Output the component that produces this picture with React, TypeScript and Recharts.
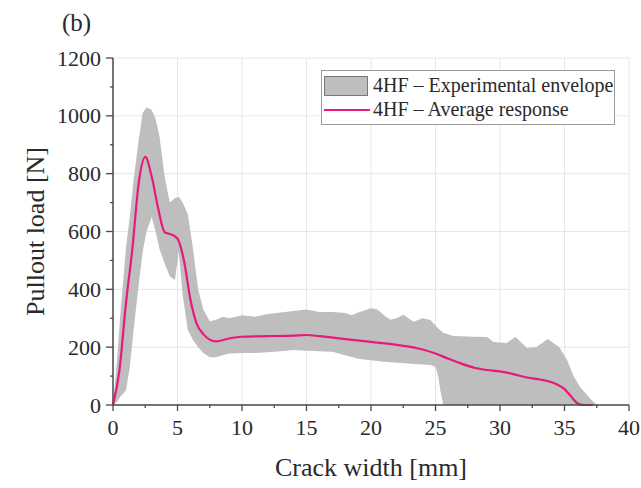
import { ComposedChart, Area, Line, XAxis, YAxis, CartesianGrid, Legend } from 'recharts';

// envelope of the 4HF tests (crack width in mm, load in N)
const envX = [0, 0.3, 0.6, 1.0, 1.3, 1.6, 2.0, 2.3, 2.6, 3.0, 3.3, 3.6, 4.0, 4.4, 4.8, 5.1, 5.4, 5.8, 6.2, 6.6, 7.0, 7.5, 8, 8.5, 9, 10, 11, 12, 13, 14, 15, 16, 17, 18, 18.5, 19, 20, 20.5, 21, 21.5, 22, 22.5, 23.3, 24, 24.6, 25, 25.2, 25.4, 25.6, 26.4, 27, 28, 29, 29.5, 30.5, 31.2, 32.1, 32.8, 33.7, 34.6, 35.2, 35.7, 36.2, 37.0, 37.5];
const envHigh = [0, 150, 330, 540, 650, 780, 920, 1010, 1030, 1020, 990, 930, 790, 700, 715, 720, 700, 660, 540, 400, 330, 290, 295, 305, 300, 310, 305, 315, 320, 325, 330, 322, 322, 318, 310, 320, 335, 330, 310, 295, 300, 312, 288, 300, 294, 275, 265, 258, 250, 239, 238, 236, 235, 218, 214, 235, 197, 200, 228, 200, 156, 100, 62, 22, 0];
const envLow = [0, 10, 30, 50, 130, 260, 420, 530, 600, 650, 600, 540, 490, 445, 432, 530, 380, 260, 225, 200, 180, 165, 165, 172, 178, 180, 180, 182, 186, 190, 188, 186, 184, 172, 166, 160, 155, 152, 150, 148, 146, 145, 142, 140, 138, 132, 100, 45, 0, 0, 0, 0, 0, 0, 0, 0, 0, 0, 0, 0, 0, 0, 0, 0, 0];

// average response
const avgX = [0, 0.5, 1.0, 1.5, 2.0, 2.5, 3.0, 3.5, 4.0, 4.5, 5.0, 5.5, 6.0, 6.5, 7.0, 7.5, 8.0, 9, 10, 12, 14, 15, 16, 18, 20, 22, 24, 25, 26, 27, 28, 29, 30, 31, 32, 33, 34, 35, 35.5, 36, 36.5, 37.2];
const avgLoad = [0, 120, 350, 540, 770, 858, 790, 680, 598, 590, 575, 500, 365, 280, 245, 226, 220, 230, 236, 238, 240, 242, 238, 228, 218, 208, 192, 178, 160, 143, 129, 121, 116, 107, 96, 89, 79, 55, 30, 6, 0, 0];

const xTicks = [0, 2.5, 5, 7.5, 10, 12.5, 15, 17.5, 20, 22.5, 25, 27.5, 30, 32.5, 35, 37.5, 40];
const yTicks = [0, 100, 200, 300, 400, 500, 600, 700, 800, 900, 1000, 1100, 1200];
const xGrid = [0, 5, 10, 15, 20, 25, 30, 35, 40];
const yGrid = [0, 200, 400, 600, 800, 1000, 1200];

const envData = envX.map((x, i) => ({ x, range: [envLow[i], envHigh[i]] }));
const avgData = avgX.map((x, i) => ({ x, load: avgLoad[i] }));

const serif = "'Liberation Serif', 'DejaVu Serif', serif";
const axisColor = '#4a4a4a';
const textColor = '#2a2a2a';
const envColor = '#bebebe';
const avgColor = '#e8197b';

const XTick = (props: any) => {
  const { x, y, payload } = props;
  const major = payload.value % 5 === 0;
  return (
    <g>
      <line x1={x} x2={x} y1={y} y2={y + (major ? 6 : 3)} stroke={axisColor} strokeWidth={1.3} />
      {major && (
        <text x={x} y={y + 30} textAnchor="middle" fontSize={22} fontFamily={serif} fill={textColor}>
          {payload.value}
        </text>
      )}
    </g>
  );
};

const YTick = (props: any) => {
  const { x, y, payload } = props;
  const major = payload.value % 200 === 0;
  return (
    <g>
      <line x1={x - (major ? 7 : 3)} x2={x} y1={y} y2={y} stroke={axisColor} strokeWidth={1.3} />
      {major && (
        <text x={x - 12} y={y + 7.5} textAnchor="end" fontSize={22} fontFamily={serif} fill={textColor}>
          {payload.value}
        </text>
      )}
    </g>
  );
};

const XTitle = (props: any) => {
  const { viewBox } = props;
  return (
    <text x={viewBox.x + viewBox.width / 2} y={476} textAnchor="middle" fontSize={26} fontFamily={serif} fill={textColor}>
      Crack width [mm]
    </text>
  );
};

const YTitle = (props: any) => {
  const { viewBox } = props;
  const cx = 35;
  const cy = viewBox.y + viewBox.height / 2;
  return (
    <text x={cx} y={cy} transform={`rotate(-90, ${cx}, ${cy})`} textAnchor="middle" dominantBaseline="central" fontSize={26} fontFamily={serif} fill={textColor}>
      Pullout load [N]
    </text>
  );
};

const LegendBox = () => (
  <div style={{ width: 294, height: 55, border: '1px solid #9a9a9a', background: '#fff', fontFamily: serif, fontSize: 20, color: textColor, boxSizing: 'border-box', padding: '3px 0 0 2px', whiteSpace: 'nowrap' }}>
    <div style={{ display: 'flex', alignItems: 'center', height: 23 }}>
      <span style={{ display: 'inline-block', width: 44, height: 20, background: envColor, border: '1px solid #777', boxSizing: 'border-box' }} />
      <span style={{ marginLeft: 5, lineHeight: '23px' }}>4HF – Experimental envelope</span>
    </div>
    <div style={{ display: 'flex', alignItems: 'center', height: 25 }}>
      <span style={{ display: 'inline-block', width: 46, height: 2, background: avgColor }} />
      <span style={{ marginLeft: 3, lineHeight: '25px' }}>4HF – Average response</span>
    </div>
  </div>
);

export default function App() {
  return (
    <div style={{ position: 'absolute', left: 0, top: 0, width: 641, height: 488, background: '#fff' }}>
      <div style={{ position: 'absolute', left: 62, top: 9, fontFamily: serif, fontSize: 25, color: textColor, zIndex: 2 }}>(b)</div>
      <ComposedChart width={641} height={488} margin={{ top: 58, right: 12, bottom: 0, left: 0 }}>
        <CartesianGrid stroke="#e6e6e6" strokeWidth={1} verticalValues={xGrid} horizontalValues={yGrid} />
        <XAxis
          dataKey="x"
          type="number"
          domain={[0, 40]}
          ticks={xTicks}
          interval={0}
          height={83}
          allowDuplicatedCategory={false}
          axisLine={{ stroke: axisColor, strokeWidth: 1.5 }}
          tickLine={false}
          tickSize={0}
          tickMargin={0}
          tick={<XTick />}
          label={XTitle}
        />
        <YAxis
          type="number"
          domain={[0, 1200]}
          ticks={yTicks}
          interval={0}
          width={113}
          axisLine={{ stroke: axisColor, strokeWidth: 1.5 }}
          tickLine={false}
          tickSize={0}
          tickMargin={0}
          tick={<YTick />}
          label={YTitle}
        />
        <Area
          data={envData}
          dataKey="range"
          type="linear"
          stroke="none"
          fill={envColor}
          fillOpacity={1}
          isAnimationActive={false}
          legendType="rect"
          name="4HF – Experimental envelope"
        />
        <Line
          data={avgData}
          dataKey="load"
          type="monotone"
          stroke={avgColor}
          strokeWidth={2.2}
          dot={false}
          activeDot={false}
          isAnimationActive={false}
          name="4HF – Average response"
        />
        <Legend
          layout="horizontal"
          verticalAlign="middle"
          align="center"
          content={() => <LegendBox />}
          wrapperStyle={{ left: 321, top: 70, width: 294, height: 55 }}
        />
      </ComposedChart>
    </div>
  );
}
